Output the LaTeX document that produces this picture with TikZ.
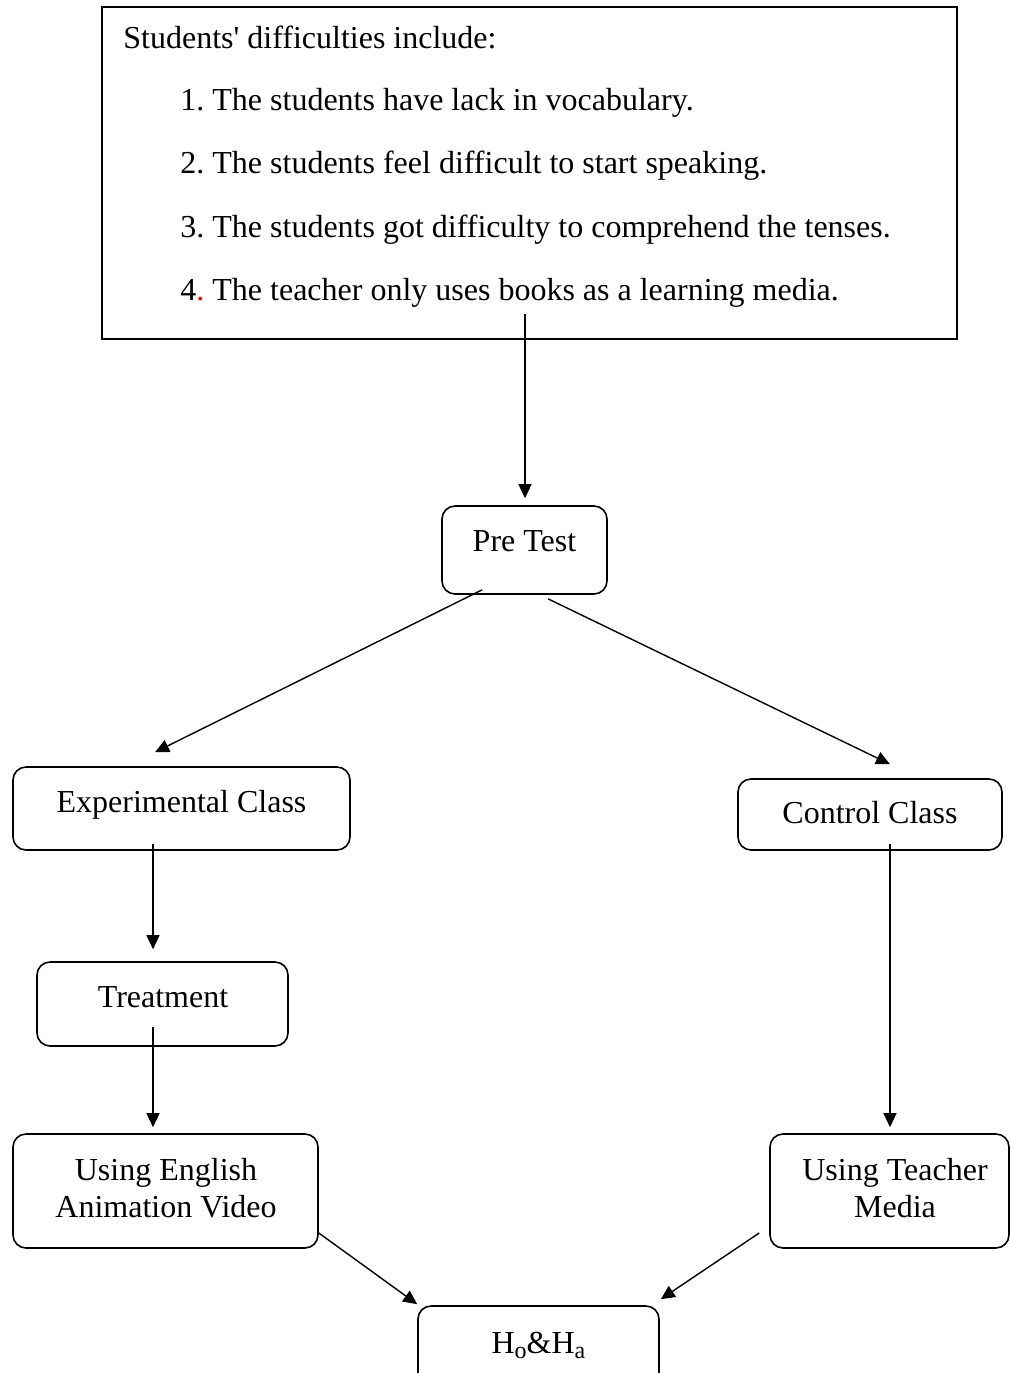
\documentclass[tikz,border=0pt]{standalone}
\usepackage{fontspec}
\setmainfont{Liberation Serif}
\usetikzlibrary{calc,arrows.meta}
\begin{document}
\frenchspacing
\begin{tikzpicture}[x=0.5pt,y=-0.5pt,
  every node/.style={font=\fontsize{16pt}{19pt}\selectfont},
  frame/.style={draw, line width=0.8pt, inner sep=0pt},
  rbox/.style={frame, rounded corners=6.5pt},
  txt/.style={anchor=base, inner sep=0pt},
  conn/.style={line width=0.7pt, -{Triangle[length=7pt,width=6.5pt]}}]
\clip (0,0) rectangle (1010,1373);
\useasboundingbox (0,0) rectangle (1010,1373);
% boxes
\node[frame, minimum width=427.5pt, minimum height=166pt] (top) at (529.5,173) {};
\node[rbox, minimum width=82.5pt, minimum height=44pt] (pre) at (524.5,550) {};
\node[rbox, minimum width=168.5pt, minimum height=41.5pt] (exp) at (181.5,808.5) {};
\node[rbox, minimum width=132pt, minimum height=35.5pt] (ctrl) at (870,814.5) {};
\node[rbox, minimum width=125.5pt, minimum height=42pt] (treat) at (162.5,1004) {};
\node[rbox, minimum width=152.5pt, minimum height=57pt] (eng) at (165.5,1191) {};
\node[rbox, minimum width=119.5pt, minimum height=57pt] (teach) at (889.5,1191) {};
\node[rbox, minimum width=120.5pt, minimum height=42pt] (ho) at (538.5,1348) {};
% texts
\node[anchor=base west, inner sep=0pt] (t0) at (123,48) {Students\textquotesingle\ difficulties include:};
\node[anchor=base west, inner sep=0pt] (t1) at (180,110) {1. The students have lack in vocabulary.};
\node[anchor=base west, inner sep=0pt] (t2) at (180,173) {2. The students feel difficult to start speaking.};
\node[anchor=base west, inner sep=0pt] (t3) at (180,237) {3. The students got difficulty to comprehend the tenses.};
\node[anchor=base west, inner sep=0pt] (t4) at (180,300) {4\textcolor{red}{.} The teacher only uses books as a learning media.};
\node[txt] (preT) at (524.5,551) {Pre Test};
\node[txt] (expT) at (181.5,812) {Experimental Class};
\node[txt] (ctrlT) at (870,823) {Control Class};
\node[txt] (treatT) at (163,1007) {Treatment};
\node[txt] (engT1) at (166,1180) {Using English};
\node[txt] (engT2) at (166,1217) {Animation Video};
\node[txt] (teachT1) at (895,1180) {Using Teacher};
\node[txt] (teachT2) at (895,1217) {Media};
\node[txt] (hoT) at (538.5,1353) {H\raisebox{-2.5pt}{\fontsize{12pt}{14pt}\selectfont o}\&H\raisebox{-2.5pt}{\fontsize{12pt}{14pt}\selectfont a}};
% connectors
\draw[conn] ($(top.south)+(-4.5,-26)$) -- ($(pre.north)+(0.5,-7)$);
\draw[conn] ($(pre.south west)+(41,-5)$) -- ($(exp.north)+(-26.5,-14)$);
\draw[conn] ($(pre.south)+(23.5,4)$) -- ($(ctrl.north)+(20,-14)$);
\draw[conn] ($(exp.south)+(-28.5,-7)$) -- ($(treat.north)+(-9.5,-12)$);
\draw[conn] ($(treat.south)+(-9.5,-20)$) -- ($(eng.north)+(-12.5,-6)$);
\draw[conn] ($(ctrl.south)+(20,-7)$) -- ($(teach.north)+(0.5,-6)$);
\draw[conn] ($(eng.east)+(0,42)$) -- ($(ho.north west)+(0,-1)$);
\draw[conn] ($(teach.west)+(-10,42)$) -- ($(ho.north east)+(1,-6)$);
\end{tikzpicture}
\end{document}
